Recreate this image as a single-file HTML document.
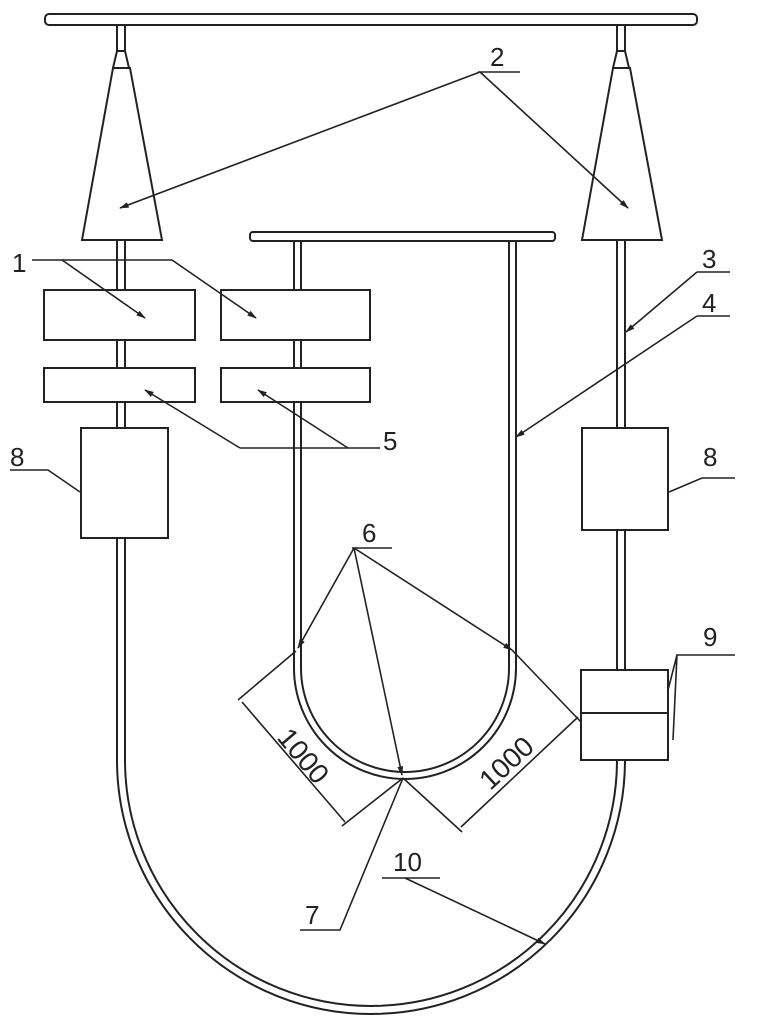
<!DOCTYPE html>
<html><head><style>html,body{margin:0;padding:0;background:#fff}svg{display:block}</style></head>
<body>
<svg width="770" height="1024" viewBox="0 0 770 1024" xmlns="http://www.w3.org/2000/svg" font-family="Liberation Sans, sans-serif" fill="none" stroke="#222" stroke-width="2">
<defs><marker id="a" viewBox="0 0 10 10" refX="9" refY="5" markerWidth="6" markerHeight="6" orient="auto"><path d="M0,2 L10,5 L0,8z" fill="#222" stroke="none"/></marker></defs>
<rect x="45" y="14" width="652" height="11" rx="4" fill="#fff"/>
<rect x="117" y="25" width="8" height="26"/>
<path d="M113,68 L130,68 L162,240 L82,240 Z" fill="#fff"/>
<path d="M113,68 L117,51 L125,51 L129,68"/>
<rect x="117" y="240" width="8" height="50"/>
<rect x="617" y="25" width="8" height="26"/>
<path d="M613,68 L630,68 L662,240 L582,240 Z" fill="#fff"/>
<path d="M613,68 L617,51 L625,51 L629,68"/>
<path d="M117,340 V368 M125,340 V368 M117,402 V428 M125,402 V428"/>
<path d="M117,538 V760 A254,254 0 0 0 625,760 V240" />
<path d="M125,538 V760 A246,246 0 0 0 617,760 V240" />
<rect x="44" y="290" width="151" height="50" fill="#fff"/>
<rect x="221" y="290" width="149" height="50" fill="#fff"/>
<rect x="44" y="368" width="151" height="34" fill="#fff"/>
<rect x="221" y="368" width="149" height="34" fill="#fff"/>
<rect x="81" y="428" width="87" height="110" fill="#fff"/>
<rect x="582" y="428" width="86" height="102" fill="#fff"/>
<rect x="581" y="670" width="87" height="90" fill="#fff"/>
<line x1="581" y1="713" x2="668" y2="713"/>
<rect x="250" y="232" width="305" height="9" rx="3" fill="#fff"/>
<path d="M294,241 V290 M301,241 V290 M294,340 V368 M301,340 V368"/>
<path d="M294,402 V668 A111,111 0 0 0 516,668 V241"/>
<path d="M301,402 V668 A104,104 0 0 0 509,668 V241"/>
<g stroke-width="1.6">
<path d="M478,72 H520"/>
<line x1="480" y1="72" x2="120" y2="208" marker-end="url(#a)"/>
<line x1="480" y1="72" x2="628" y2="208" marker-end="url(#a)"/>
<path d="M32,260 H172"/>
<line x1="62" y1="260" x2="145" y2="318" marker-end="url(#a)"/>
<line x1="172" y1="260" x2="256" y2="318" marker-end="url(#a)"/>
<path d="M697,272 H730"/>
<line x1="697" y1="272" x2="626" y2="332" marker-end="url(#a)"/>
<path d="M697,316 H730"/>
<line x1="697" y1="316" x2="516" y2="437" marker-end="url(#a)"/>
<path d="M240,448 H380"/>
<line x1="240" y1="448" x2="145" y2="390" marker-end="url(#a)"/>
<line x1="348" y1="448" x2="258" y2="390" marker-end="url(#a)"/>
<path d="M10,470 H48 L80,492"/>
<path d="M735,478 H702 L669,492"/>
<path d="M352,548 H392"/>
<line x1="354" y1="548" x2="298" y2="648" marker-end="url(#a)"/>
<line x1="354" y1="548" x2="402" y2="775" marker-end="url(#a)"/>
<line x1="354" y1="548" x2="512" y2="650" marker-end="url(#a)"/>
<path d="M676,655 H735 M677,655 L668,690 M677,655 L673,740"/>
<path d="M296,651 L238,700 M403,778 L342,826"/>
<path d="M242,702 L345,822"/>
<path d="M512,650 L581,722 M403,778 L462,832"/>
<path d="M578,717 L461,827"/>
<path d="M382,878 H440"/>
<line x1="405" y1="878" x2="545" y2="944" marker-end="url(#a)"/>
<path d="M300,930 H340 L403,778"/>
</g>
<g fill="#222" stroke="none" font-size="26">
<text x="490" y="66">2</text>
<text x="12" y="272">1</text>
<text x="702" y="268">3</text>
<text x="702" y="312">4</text>
<text x="383" y="450">5</text>
<text x="10" y="466">8</text>
<text x="703" y="466">8</text>
<text x="362" y="542">6</text>
<text x="703" y="646">9</text>
<text x="393" y="871">10</text>
<text x="305" y="924">7</text>
<text transform="translate(296,762) rotate(50)" font-size="28" text-anchor="middle">1000</text>
<text transform="translate(513,770) rotate(-43)" font-size="28" text-anchor="middle">1000</text>
</g>
</svg>
</body></html>
